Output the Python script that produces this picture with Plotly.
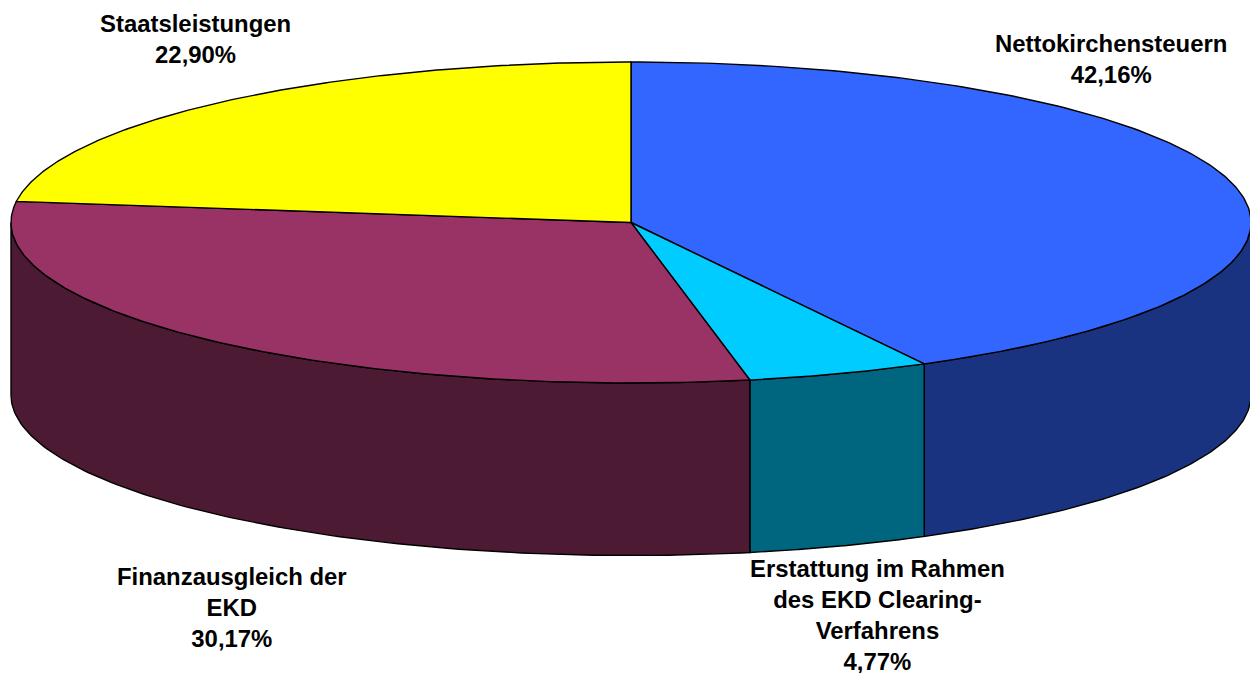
import numpy as np
import plotly.graph_objects as go

categories = ["Nettokirchensteuern", "Erstattung im Rahmen<br>des EKD Clearing-<br>Verfahrens", "Finanzausgleich der<br>EKD", "Staatsleistungen"]
values = [42.16, 4.77, 30.17, 22.90]
value_labels = ["42,16%", "4,77%", "30,17%", "22,90%"]
top_colors = ["#3366FF", "#00CCFF", "#993366", "#FFFF00"]
side_colors = ["#1A3380", "#006680", "#4D1A33", "#808000"]
label_x = [1111, 877, 232, 195]
label_y = [59, 615, 607, 39]

W, H = 1250, 673
CX, CY, RX, RY, DEPTH = 631, 222.5, 620, 160.5, 172.5

def pt(deg, dy=0):
    a = np.radians(deg)
    return CX + RX * np.sin(a), CY - RY * np.cos(a) + dy

fig = go.Figure()
line = dict(color="black", width=1.4)
total = sum(values)
edges = np.concatenate([[0], np.cumsum(values) / total * 360])

# side walls (only the front half, 90..270 degrees, is visible)
for i in range(len(values)):
    a0, a1 = max(edges[i], 90), min(edges[i + 1], 270)
    if a1 <= a0:
        continue
    th = np.linspace(a0, a1, 120)
    x0, y0 = pt(th)
    x1, y1 = pt(th[::-1], DEPTH)
    fig.add_trace(go.Scatter(x=np.r_[x0, x1, x0[0]], y=np.r_[y0, y1, y0[0]], mode="lines",
                             fill="toself", fillcolor=side_colors[i], line=line, hoverinfo="skip"))

# top face
for i in range(len(values)):
    th = np.linspace(edges[i], edges[i + 1], 200)
    x, y = pt(th)
    fig.add_trace(go.Scatter(x=np.r_[CX, x, CX], y=np.r_[CY, y, CY], mode="lines",
                             fill="toself", fillcolor=top_colors[i], line=line,
                             name=categories[i], hoverinfo="skip"))

for c, v, lx, ly in zip(categories, value_labels, label_x, label_y):
    fig.add_annotation(x=lx, y=ly, text=f"{c}<br>{v}", showarrow=False, align="center",
                       font=dict(family="Liberation Sans", size=23.9, color="black", weight="bold"))

fig.update_layout(width=W, height=H, margin=dict(l=0, r=0, t=0, b=0), showlegend=False,
                  paper_bgcolor="white", plot_bgcolor="white",
                  xaxis=dict(range=[0, W], visible=False, fixedrange=True),
                  yaxis=dict(range=[H, 0], visible=False, fixedrange=True))
fig.write_html("out.html", config={"displayModeBar": False},
               post_script="document.body.style.margin='0';document.documentElement.style.overflow='hidden';")
